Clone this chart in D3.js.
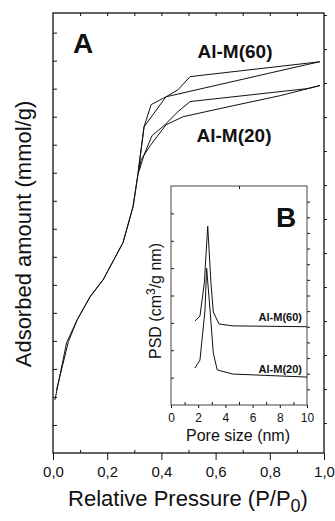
<!DOCTYPE html>
<html>
<head>
<meta charset="utf-8">
<script src="https://cdn.jsdelivr.net/npm/d3@7"></script>
<style>
body { margin: 0; background: #fff; }
text { font-family: "Liberation Sans", Arial, sans-serif; fill: #111; }
</style>
</head>
<body>
<div id="vis"></div>
<script>
// isotherm data, P/P0 and adsorbed amount (mmol/g)
const m60AdsP = [0.007, 0.05, 0.089, 0.137, 0.185, 0.258, 0.295, 0.314, 0.336, 0.362, 0.417, 0.937, 0.985];
const m60AdsV = [1.89, 3.93, 4.75, 5.57, 6.18, 7.5, 8.79, 10.0, 11.64, 12.43, 12.71, 13.86, 13.96];
const m60DesP = [0.985, 0.506, 0.461, 0.417, 0.336, 0.314];
const m60DesV = [13.96, 13.43, 12.96, 12.71, 11.64, 10.0];

const m20AdsP = [0.013, 0.057, 0.09, 0.138, 0.186, 0.259, 0.296, 0.315, 0.325, 0.358, 0.417, 0.48, 0.664, 0.838, 0.985];
const m20AdsV = [2.25, 3.98, 4.77, 5.6, 6.2, 7.52, 8.8, 10.02, 10.46, 10.96, 11.71, 12.0, 12.39, 12.75, 13.11];
const m20DesP = [0.985, 0.937, 0.506, 0.461, 0.413, 0.365, 0.336, 0.317];
const m20DesV = [13.11, 13.0, 12.54, 12.18, 11.71, 11.32, 10.64, 10.04];

// pore size distribution (inset), nm and arbitrary PSD units
const psd60X = [1.76, 2.13, 2.45, 2.70, 2.94, 3.11, 3.53, 4.56, 10.0];
const psd60Y = [3.07, 3.25, 4.45, 6.53, 4.45, 3.4, 2.96, 2.89, 2.86];
const psd20X = [1.76, 2.13, 2.5, 2.62, 2.87, 3.11, 3.4, 4.56, 10.0];
const psd20Y = [1.35, 1.64, 3.47, 5.0, 3.47, 1.9, 1.28, 1.13, 1.02];

// tick labels
const xMajor = [0, 0.2, 0.4, 0.6, 0.8, 1.0];
const xMinor = [0.1, 0.3, 0.5, 0.7, 0.9];
const xTop = [0.1, 0.2, 0.3, 0.4, 0.5, 0.6, 0.7, 0.8, 0.9];
const insetMajor = [0, 2, 4, 6, 8, 10];
const insetMinor = [1, 3, 5, 7, 9];

const width = 335, height = 521;
const margin = {top: 13, right: 11, bottom: 68, left: 53};

const svg = d3.select("#vis").append("svg")
  .attr("width", width)
  .attr("height", height)
  .style("background", "white");

const x = d3.scaleLinear().domain([0, 1]).range([margin.left, width - margin.right]);
const y = d3.scaleLinear().domain([0, 15.7]).range([height - margin.bottom, margin.top]);
const yRight = d3.scaleLinear().domain([-0.88, 12.06]).range([height - margin.bottom, margin.top]);

const bottomY = height - margin.bottom;

function clean(g) {
  g.select(".domain").remove();
  g.selectAll("line").attr("stroke", "#111");
  return g;
}

// main axes
svg.append("g")
  .attr("transform", `translate(0, ${bottomY})`)
  .call(d3.axisBottom(x).tickValues(xMajor).tickSize(7).tickPadding(6.4)
    .tickFormat(d => d3.format(".1f")(d).replace(".", ",")))
  .call(clean)
  .selectAll("text").style("font-size", "15px").style("font-family", "Liberation Sans, Arial, sans-serif");

svg.append("g")
  .attr("transform", `translate(0, ${bottomY})`)
  .call(d3.axisBottom(x).tickValues(xMinor).tickSize(-3).tickFormat(""))
  .call(clean);

svg.append("g")
  .attr("transform", `translate(0, ${margin.top})`)
  .call(d3.axisTop(x).tickValues(xTop).tickSize(-3).tickFormat(""))
  .call(clean);

svg.append("g")
  .attr("transform", `translate(${margin.left}, 0)`)
  .call(d3.axisLeft(y).tickValues(d3.range(1, 16)).tickSize(-4).tickFormat(""))
  .call(clean);

svg.append("g")
  .attr("transform", `translate(${width - margin.right}, 0)`)
  .call(d3.axisRight(yRight).tickValues(d3.range(0, 13)).tickSize(3).tickFormat(""))
  .call(clean);

svg.append("rect")
  .attr("x", margin.left)
  .attr("y", margin.top)
  .attr("width", width - margin.left - margin.right)
  .attr("height", bottomY - margin.top)
  .attr("fill", "none")
  .attr("stroke", "#111")
  .attr("stroke-width", 1.3);

// isotherm curves
const line = d3.line().x(d => x(d[0])).y(d => y(d[1]));
const isoSeries = [
  [m60AdsP, m60AdsV], [m60DesP, m60DesV],
  [m20AdsP, m20AdsV], [m20DesP, m20DesV]
];
isoSeries.forEach(s => {
  svg.append("path")
    .datum(d3.zip(s[0], s[1]))
    .attr("d", line)
    .attr("fill", "none")
    .attr("stroke", "#111")
    .attr("stroke-width", 1);
});

// panel labels
svg.append("text").attr("x", 83).attr("y", 53)
  .attr("text-anchor", "middle").style("font-size", "28px").style("font-weight", "bold").text("A");
svg.append("text").attr("x", 235).attr("y", 58)
  .attr("text-anchor", "middle").style("font-size", "19px").style("font-weight", "bold").text("Al-M(60)");
svg.append("text").attr("x", 234).attr("y", 142)
  .attr("text-anchor", "middle").style("font-size", "19px").style("font-weight", "bold").text("Al-M(20)");

// axis titles
svg.append("text")
  .attr("transform", "translate(31, 234) rotate(-90)")
  .attr("text-anchor", "middle")
  .style("font-size", "22px")
  .text("Adsorbed amount (mmol/g)");

const xt = svg.append("text")
  .attr("x", 188).attr("y", 506)
  .attr("text-anchor", "middle")
  .style("font-size", "22px");
xt.append("tspan").text("Relative Pressure (P/P");
xt.append("tspan").attr("dy", 6).style("font-size", "18px").text("0");
xt.append("tspan").attr("dy", -6).text(")");

// inset
const inset = {left: 171, right: 307, top: 186, bottom: 405};
const xi = d3.scaleLinear().domain([0, 10]).range([inset.left, inset.right]);
const yi = d3.scaleLinear().domain([0, 8]).range([inset.bottom, inset.top]);
const yiRight = d3.scaleLinear().domain([0, 14]).range([inset.bottom, inset.top]);

svg.append("rect")
  .attr("x", inset.left).attr("y", inset.top)
  .attr("width", inset.right - inset.left).attr("height", inset.bottom - inset.top)
  .attr("fill", "white");

svg.append("g")
  .attr("transform", `translate(0, ${inset.bottom})`)
  .call(d3.axisBottom(xi).tickValues(insetMajor).tickSize(3).tickPadding(5.5))
  .call(clean)
  .selectAll("text").style("font-size", "12px").style("font-family", "Liberation Sans, Arial, sans-serif").attr("fill", "#222");

svg.append("g")
  .attr("transform", `translate(0, ${inset.bottom})`)
  .call(d3.axisBottom(xi).tickValues(insetMinor).tickSize(-3).tickFormat(""))
  .call(clean);

svg.append("g")
  .attr("transform", `translate(0, ${inset.top})`)
  .call(d3.axisTop(xi).tickValues([5]).tickSize(-3).tickFormat(""))
  .call(clean);

svg.append("g")
  .attr("transform", `translate(${inset.left}, 0)`)
  .call(d3.axisLeft(yi).tickValues(d3.range(1, 8)).tickSize(-3).tickFormat(""))
  .call(clean);

svg.append("g")
  .attr("transform", `translate(${inset.right}, 0)`)
  .call(d3.axisRight(yiRight).tickValues(d3.range(1, 14)).tickSize(3).tickFormat(""))
  .call(clean);

svg.append("rect")
  .attr("x", inset.left).attr("y", inset.top)
  .attr("width", inset.right - inset.left).attr("height", inset.bottom - inset.top)
  .attr("fill", "none")
  .attr("stroke", "#444")
  .attr("stroke-width", 1);

const iline = d3.line().x(d => xi(d[0])).y(d => yi(d[1]));
[[psd60X, psd60Y], [psd20X, psd20Y]].forEach(s => {
  svg.append("path")
    .datum(d3.zip(s[0], s[1]))
    .attr("d", iline)
    .attr("fill", "none")
    .attr("stroke", "#111")
    .attr("stroke-width", 1);
});

svg.append("text").attr("x", 286).attr("y", 227)
  .attr("text-anchor", "middle").style("font-size", "28px").style("font-weight", "bold").text("B");
svg.append("text").attr("x", 302).attr("y", 321)
  .attr("text-anchor", "end").style("font-size", "11px").style("font-weight", "bold").text("Al-M(60)");
svg.append("text").attr("x", 302).attr("y", 373)
  .attr("text-anchor", "end").style("font-size", "11px").style("font-weight", "bold").text("Al-M(20)");

svg.append("text")
  .attr("x", 238).attr("y", 441)
  .attr("text-anchor", "middle")
  .style("font-size", "16px")
  .text("Pore size (nm)");

const pt = svg.append("text")
  .attr("transform", "translate(161, 301) rotate(-90)")
  .attr("text-anchor", "middle")
  .style("font-size", "16px");
pt.append("tspan").text("PSD (cm");
pt.append("tspan").attr("dy", -6).style("font-size", "12px").text("3");
pt.append("tspan").attr("dy", 6).text("/g nm)");
</script>
</body>
</html>
